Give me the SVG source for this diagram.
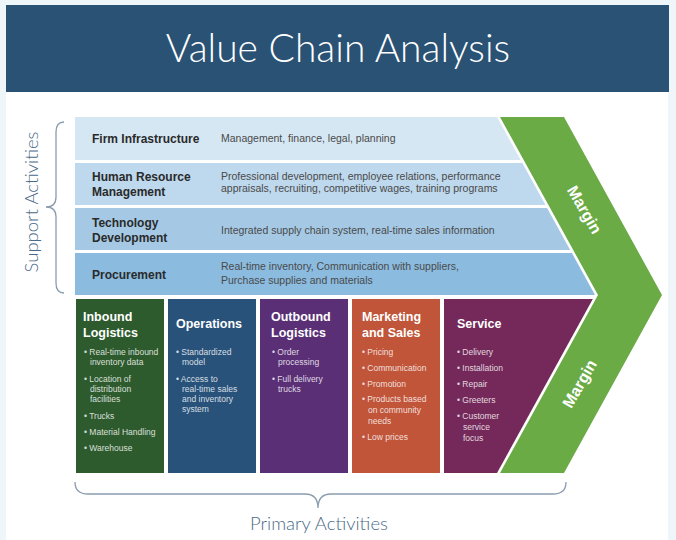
<svg xmlns="http://www.w3.org/2000/svg" width="676" height="540" viewBox="0 0 676 540">
  <style>
    .lbl { font-family: "Liberation Sans", Arial, sans-serif; font-weight: bold; font-size: 12px; fill: #2a2a2a; }
    .desc { font-family: "Liberation Sans", Arial, sans-serif; font-size: 10.5px; fill: #4a4a4a; }
    .ph { font-family: "Liberation Sans", Arial, sans-serif; font-weight: bold; font-size: 12.5px; fill: #ffffff; }
    .pb { font-family: "Liberation Sans", Arial, sans-serif; font-size: 8.5px; fill: #ffffff; fill-opacity: 0.82; }
    .margin { font-family: "Liberation Sans", Arial, sans-serif; font-weight: bold; font-size: 16px; fill: #ffffff; }
    .side { font-family: "Lato", "Liberation Sans", sans-serif; font-weight: 300; font-size: 18.5px; fill: #4b6a88; }
    .brace { fill: none; stroke: #8a9cae; stroke-width: 1.3; }
  </style>
  <rect x="0" y="0" width="676" height="540" fill="#eef6fa"/>
  <rect x="6" y="5" width="662" height="535" fill="#ffffff"/>
  <g id="header">
    <rect x="6" y="5" width="663" height="87" fill="#2a5275"/>
    <text x="338" y="62" text-anchor="middle" font-family="Lato, 'Liberation Sans', sans-serif" font-weight="300" font-size="39" fill="#ffffff">Value Chain Analysis</text>
  </g>

  <g id="margin">
    <polygon points="500,117 564,117 662,295 564,473 500,473 598,295" fill="#6aab45"/>
    <text class="margin" transform="translate(584,210) rotate(60)" text-anchor="middle" dy="5">Margin</text>
    <text class="margin" transform="translate(580,384) rotate(-60)" text-anchor="middle" dy="5">Margin</text>
  </g>

  <g id="firm-infrastructure">
    <polygon points="75,117 497,117 520.7,160 75,160" fill="#d6e7f4"/>
    <text class="lbl" x="92" y="143">Firm Infrastructure</text>
    <text class="desc" x="221" y="142">Management, finance, legal, planning</text>
  </g>
  <g id="human-resource-management">
    <polygon points="75,163 522.3,163 545.5,205 75,205" fill="#bed8ed"/>
    <text class="lbl" x="92" y="181">Human Resource</text>
    <text class="lbl" x="92" y="196">Management</text>
    <text class="desc" x="221" y="180">Professional development, employee relations, performance</text>
    <text class="desc" x="221" y="192">appraisals, recruiting, competitive wages, training programs</text>
  </g>
  <g id="technology-development">
    <polygon points="75,208 547.1,208 570.2,250 75,250" fill="#a5c9e5"/>
    <text class="lbl" x="92" y="227">Technology</text>
    <text class="lbl" x="92" y="242">Development</text>
    <text class="desc" x="221" y="234">Integrated supply chain system, real-time sales information</text>
  </g>
  <g id="procurement">
    <polygon points="75,253 571.9,253 595,295 75,295" fill="#8bbbdf"/>
    <text class="lbl" x="92" y="279">Procurement</text>
    <text class="desc" x="221" y="270">Real-time inventory, Communication with suppliers,</text>
    <text class="desc" x="221" y="284">Purchase supplies and materials</text>
  </g>

  <g id="inbound-logistics">
    <rect x="76" y="299" width="88" height="174" fill="#2e5b2e"/>
    <text class="ph" x="83" y="321">Inbound</text>
    <text class="ph" x="83" y="337">Logistics</text>
    <text class="pb" x="84" y="355">• Real-time inbound</text>
    <text class="pb" x="90" y="365">inventory data</text>
    <text class="pb" x="84" y="382">• Location of</text>
    <text class="pb" x="90" y="392">distribution</text>
    <text class="pb" x="90" y="402">facilities</text>
    <text class="pb" x="84" y="419">• Trucks</text>
    <text class="pb" x="84" y="435">• Material Handling</text>
    <text class="pb" x="84" y="451">• Warehouse</text>
  </g>
  <g id="operations">
    <rect x="168" y="299" width="88" height="174" fill="#28527a"/>
    <text class="ph" x="176" y="328">Operations</text>
    <text class="pb" x="176" y="355">• Standardized</text>
    <text class="pb" x="182" y="365">model</text>
    <text class="pb" x="176" y="382">• Access to</text>
    <text class="pb" x="182" y="392">real-time sales</text>
    <text class="pb" x="182" y="402">and inventory</text>
    <text class="pb" x="182" y="412">system</text>
  </g>
  <g id="outbound-logistics">
    <rect x="260" y="299" width="88" height="174" fill="#5a2f76"/>
    <text class="ph" x="271" y="321">Outbound</text>
    <text class="ph" x="271" y="337">Logistics</text>
    <text class="pb" x="272" y="355">• Order</text>
    <text class="pb" x="278" y="365">processing</text>
    <text class="pb" x="272" y="382">• Full delivery</text>
    <text class="pb" x="278" y="392">trucks</text>
  </g>
  <g id="marketing-and-sales">
    <rect x="352" y="299" width="88" height="174" fill="#c0553a"/>
    <text class="ph" x="362" y="321">Marketing</text>
    <text class="ph" x="362" y="337">and Sales</text>
    <text class="pb" x="362" y="355">• Pricing</text>
    <text class="pb" x="362" y="371">• Communication</text>
    <text class="pb" x="362" y="387">• Promotion</text>
    <text class="pb" x="362" y="402">• Products based</text>
    <text class="pb" x="368" y="413">on community</text>
    <text class="pb" x="368" y="424">needs</text>
    <text class="pb" x="362" y="440">• Low prices</text>
  </g>
  <g id="service">
    <polygon points="444,299 592.8,299 497,473 444,473" fill="#74295a"/>
    <text class="ph" x="457" y="328">Service</text>
    <text class="pb" x="457" y="355">• Delivery</text>
    <text class="pb" x="457" y="371">• Installation</text>
    <text class="pb" x="457" y="387">• Repair</text>
    <text class="pb" x="457" y="403">• Greeters</text>
    <text class="pb" x="457" y="419">• Customer</text>
    <text class="pb" x="463" y="430">service</text>
    <text class="pb" x="463" y="441">focus</text>
  </g>

  <g id="connectors">
    <path class="brace" d="M64 122 Q56 122 56 132 L56 197 Q56 207 46 207 Q56 207 56 217 L56 283 Q56 293 64 293"/>
    <path class="brace" d="M75 482 Q75 494 88 494 L305 494 Q318 494 318 508 Q318 494 331 494 L553 494 Q566 494 566 482"/>
  </g>
  <g id="labels">
    <text class="side" transform="translate(38,202) rotate(-90)" text-anchor="middle">Support Activities</text>
    <text class="side" x="319" y="530" text-anchor="middle">Primary Activities</text>
  </g>
</svg>
